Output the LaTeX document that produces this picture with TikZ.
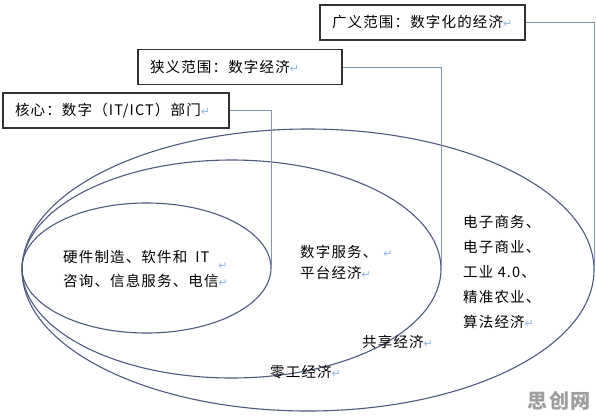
\documentclass[tikz,border=0pt]{standalone}
\usepackage{fontspec}
\usetikzlibrary{shapes.geometric}
\newfontfamily\cjk[LetterSpace=8]{Noto Sans CJK SC}
\newfontfamily\symfont{DejaVu Sans}
\definecolor{ell}{HTML}{4F5A7C}
\definecolor{conn}{HTML}{7D95BE}
\definecolor{ret}{HTML}{8DB6E2}
\newcommand{\retmark}{{\symfont\color{ret}\fontsize{11}{11}\selectfont ↵}}
\begin{document}
\begin{tikzpicture}[x=1pt,y=-1pt,
  ring/.style={ellipse, draw=ell, line width=1.1pt, inner sep=0pt},
  tag/.style={draw=black!80, line width=1.1pt, fill=white, minimum height=35pt,
    inner ysep=0pt, inner xsep=12pt, align=left,
    font=\cjk\fontsize{14.5}{16}\selectfont},
  link/.style={draw=conn, line width=0.8pt},
  lbl/.style={inner sep=0pt, align=left, font=\cjk\fontsize{14.5}{24}\selectfont}
]
\useasboundingbox (0,0) rectangle (596,416);
\fill[white] (0,0) rectangle (596,416);

% ellipses
\node[ring, minimum width=572pt, minimum height=282pt] (outer) at (308,270) {};
\node[ring, minimum width=419pt, minimum height=218pt] (middle) at (231.5,269) {};
\node[ring, minimum width=249pt, minimum height=130pt] (inner) at (146.5,268) {};

% boxes
\node[tag, text width=181pt] (b1) at (422.5,22.5) {广义范围：数字化的经济\retmark};
\node[tag, text width=180pt] (b2) at (240,67) {狭义范围：数字经济\retmark};
\node[tag, text width=202pt] (b3) at (116,110.5) {核心：数字（IT/ICT）部门\retmark};

% connectors
\draw[link] (b1.east) -| (outer.east);
\draw[link] (b2.east) -| (middle.east);
\draw[link] (b3.east) -| (inner.east);

% labels
\node[lbl, anchor=west] (hw) at (63,269)
  {硬件制造、软件和\hspace{8pt}IT\rlap{\hspace{9pt}\raisebox{-7pt}{\retmark}}\\咨询、信息服务、电信\retmark};
\node[lbl, anchor=west, font=\cjk\fontsize{14.5}{21}\selectfont] (ds) at (300,262.5)
  {数字服务、\hspace{6pt}\retmark\\平台经济\retmark};
\node[lbl, anchor=west, font=\cjk\fontsize{14.5}{24.8}\selectfont] (ec) at (463,272)
  {电子商务、\\电子商业、\\工业 4.0、\\精准农业、\\算法经济\retmark};
\node[lbl, anchor=west] (gx) at (362,342) {共享经济\retmark};
\node[lbl, anchor=west] (lg) at (270,372) {零工经济\retmark};

% watermark
\node[inner sep=0pt, anchor=east, text=black!38,
  font=\cjk\bfseries\fontsize{20}{20}\selectfont] (wm) at (591,401) {思创网};
\end{tikzpicture}
\end{document}
